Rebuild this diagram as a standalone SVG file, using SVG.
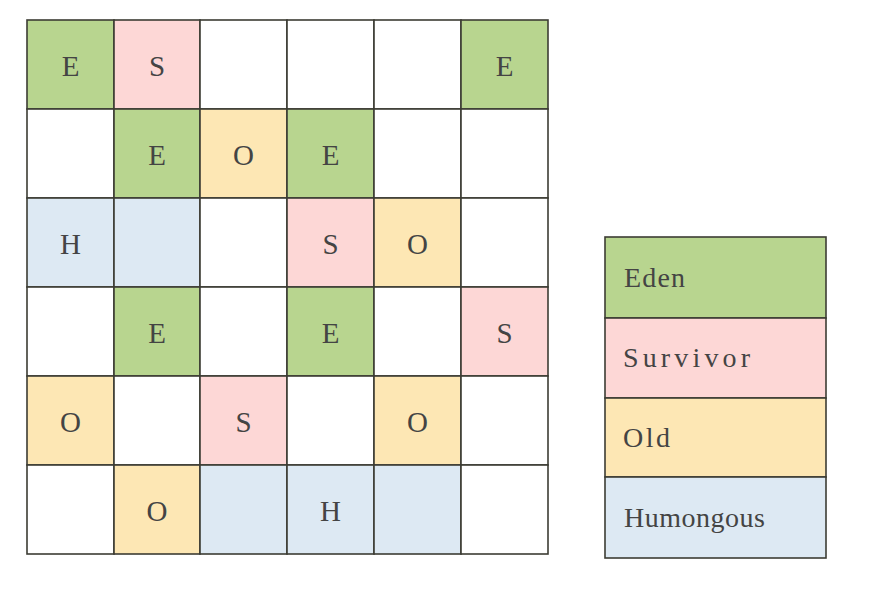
<svg xmlns="http://www.w3.org/2000/svg" width="875" height="589" viewBox="0 0 875 589">
<style>
.c{stroke:#3c3c34;stroke-width:1.6}
.w{fill:#ffffff}.e{fill:#b8d58f}.s{fill:#fdd7d6}.o{fill:#fde7b4}.h{fill:#dde9f3}
.t{font-family:"Liberation Serif",serif;font-size:29px;fill:#444;text-anchor:middle}
.l{font-family:"Liberation Serif",serif;font-size:28px;fill:#444}
</style>
<rect width="875" height="589" fill="#fff"/>
<g id="grid">
<g id="r0c0"><rect class="c e" x="27" y="20" width="87" height="89"/><text class="t" x="70.5" y="76">E</text></g>
<g id="r0c1"><rect class="c s" x="114" y="20" width="86" height="89"/><text class="t" x="157" y="76">S</text></g>
<g id="r0c2"><rect class="c w" x="200" y="20" width="87" height="89"/></g>
<g id="r0c3"><rect class="c w" x="287" y="20" width="87" height="89"/></g>
<g id="r0c4"><rect class="c w" x="374" y="20" width="87" height="89"/></g>
<g id="r0c5"><rect class="c e" x="461" y="20" width="87" height="89"/><text class="t" x="504.5" y="76">E</text></g>

<g id="r1c0"><rect class="c w" x="27" y="109" width="87" height="89"/></g>
<g id="r1c1"><rect class="c e" x="114" y="109" width="86" height="89"/><text class="t" x="157" y="165">E</text></g>
<g id="r1c2"><rect class="c o" x="200" y="109" width="87" height="89"/><text class="t" x="243.5" y="165">O</text></g>
<g id="r1c3"><rect class="c e" x="287" y="109" width="87" height="89"/><text class="t" x="330.5" y="165">E</text></g>
<g id="r1c4"><rect class="c w" x="374" y="109" width="87" height="89"/></g>
<g id="r1c5"><rect class="c w" x="461" y="109" width="87" height="89"/></g>

<g id="r2c0"><rect class="c h" x="27" y="198" width="87" height="89"/><text class="t" x="70.5" y="254">H</text></g>
<g id="r2c1"><rect class="c h" x="114" y="198" width="86" height="89"/></g>
<g id="r2c2"><rect class="c w" x="200" y="198" width="87" height="89"/></g>
<g id="r2c3"><rect class="c s" x="287" y="198" width="87" height="89"/><text class="t" x="330.5" y="254">S</text></g>
<g id="r2c4"><rect class="c o" x="374" y="198" width="87" height="89"/><text class="t" x="417.5" y="254">O</text></g>
<g id="r2c5"><rect class="c w" x="461" y="198" width="87" height="89"/></g>

<g id="r3c0"><rect class="c w" x="27" y="287" width="87" height="89"/></g>
<g id="r3c1"><rect class="c e" x="114" y="287" width="86" height="89"/><text class="t" x="157" y="343">E</text></g>
<g id="r3c2"><rect class="c w" x="200" y="287" width="87" height="89"/></g>
<g id="r3c3"><rect class="c e" x="287" y="287" width="87" height="89"/><text class="t" x="330.5" y="343">E</text></g>
<g id="r3c4"><rect class="c w" x="374" y="287" width="87" height="89"/></g>
<g id="r3c5"><rect class="c s" x="461" y="287" width="87" height="89"/><text class="t" x="504.5" y="343">S</text></g>

<g id="r4c0"><rect class="c o" x="27" y="376" width="87" height="89"/><text class="t" x="70.5" y="432">O</text></g>
<g id="r4c1"><rect class="c w" x="114" y="376" width="86" height="89"/></g>
<g id="r4c2"><rect class="c s" x="200" y="376" width="87" height="89"/><text class="t" x="243.5" y="432">S</text></g>
<g id="r4c3"><rect class="c w" x="287" y="376" width="87" height="89"/></g>
<g id="r4c4"><rect class="c o" x="374" y="376" width="87" height="89"/><text class="t" x="417.5" y="432">O</text></g>
<g id="r4c5"><rect class="c w" x="461" y="376" width="87" height="89"/></g>

<g id="r5c0"><rect class="c w" x="27" y="465" width="87" height="89"/></g>
<g id="r5c1"><rect class="c o" x="114" y="465" width="86" height="89"/><text class="t" x="157" y="521">O</text></g>
<g id="r5c2"><rect class="c h" x="200" y="465" width="87" height="89"/></g>
<g id="r5c3"><rect class="c h" x="287" y="465" width="87" height="89"/><text class="t" x="330.5" y="521">H</text></g>
<g id="r5c4"><rect class="c h" x="374" y="465" width="87" height="89"/></g>
<g id="r5c5"><rect class="c w" x="461" y="465" width="87" height="89"/></g>
</g>
<g id="legend">
<g id="leg-eden"><rect class="c e" x="605" y="237" width="221" height="81"/><text class="l" x="624" y="287" textLength="61" lengthAdjust="spacing">Eden</text></g>
<g id="leg-survivor"><rect class="c s" x="605" y="318" width="221" height="80"/><text class="l" x="623" y="367" textLength="127" lengthAdjust="spacing">Survivor</text></g>
<g id="leg-old"><rect class="c o" x="605" y="398" width="221" height="79"/><text class="l" x="623" y="447" textLength="47" lengthAdjust="spacing">Old</text></g>
<g id="leg-humongous"><rect class="c h" x="605" y="477" width="221" height="81"/><text class="l" x="624" y="527" textLength="141" lengthAdjust="spacing">Humongous</text></g>
</g>
</svg>
